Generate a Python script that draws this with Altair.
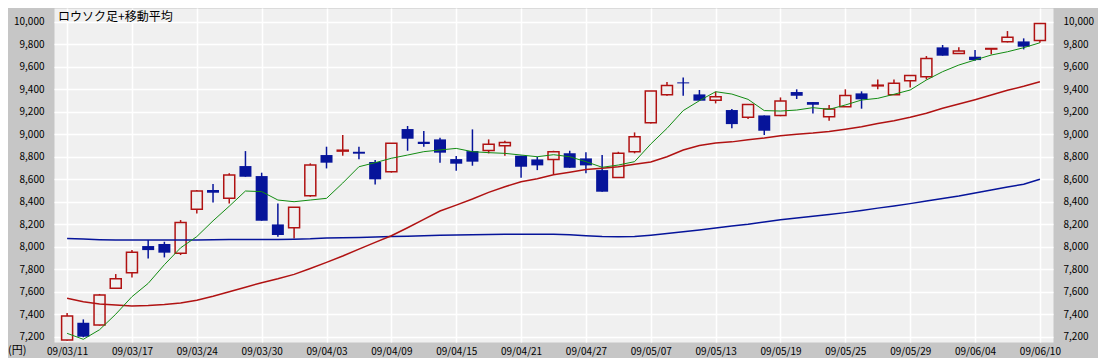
import altair as alt
import pandas as pd

# trading days (YY/MM/DD)
dates = [
    "09/03/11", "09/03/12", "09/03/13", "09/03/16", "09/03/17", "09/03/18", "09/03/19", "09/03/23",
    "09/03/24", "09/03/25", "09/03/26", "09/03/27", "09/03/30", "09/03/31", "09/04/01", "09/04/02",
    "09/04/03", "09/04/06", "09/04/07", "09/04/08", "09/04/09", "09/04/10", "09/04/13", "09/04/14",
    "09/04/15", "09/04/16", "09/04/17", "09/04/20", "09/04/21", "09/04/22", "09/04/23", "09/04/24",
    "09/04/27", "09/04/28", "09/04/30", "09/05/01", "09/05/07", "09/05/08", "09/05/11", "09/05/12",
    "09/05/13", "09/05/14", "09/05/15", "09/05/18", "09/05/19", "09/05/20", "09/05/21", "09/05/22",
    "09/05/25", "09/05/26", "09/05/27", "09/05/28", "09/05/29", "09/06/01", "09/06/02", "09/06/03",
    "09/06/04", "09/06/05", "09/06/08", "09/06/09", "09/06/10",
]

open_ = [7170, 7324, 7304, 7630, 7769, 8006, 8024, 7941, 8332, 8504, 8430, 8717, 8628, 8198, 8169, 8453,
         8815, 8850, 8844, 8753, 8667, 9046, 8933, 8954, 8779, 8850, 8856, 8898, 8809, 8776, 8776, 8830,
         8785, 8681, 8616, 8844, 9102, 9351, 9461, 9354, 9301, 9215, 9150, 9167, 9167, 9375, 9286, 9156,
         9244, 9363, 9430, 9351, 9476, 9511, 9772, 9718, 9689, 9757, 9822, 9825, 9834]
high = [7410, 7354, 7580, 7757, 7970, 8059, 8044, 8237, 8504, 8557, 8652, 8850, 8658, 8385, 8350, 8741,
        8889, 8993, 8889, 8770, 8919, 9073, 9028, 8969, 8806, 9043, 8954, 8942, 8809, 8800, 8853, 8853,
        8839, 8815, 8844, 9016, 9384, 9464, 9505, 9393, 9378, 9224, 9265, 9167, 9327, 9399, 9286, 9259,
        9399, 9381, 9487, 9487, 9523, 9695, 9793, 9772, 9748, 9762, 9917, 9852, 9985]
low = [7165, 7195, 7300, 7630, 7727, 7896, 7905, 7926, 8296, 8394, 8385, 8622, 8231, 8089, 8074, 8444,
       8696, 8809, 8778, 8554, 8659, 8853, 8889, 8747, 8676, 8720, 8830, 8809, 8613, 8681, 8646, 8702,
       8652, 8489, 8616, 8830, 9096, 9342, 9342, 9298, 9274, 9052, 9135, 8993, 9160, 9313, 9185, 9120,
       9244, 9227, 9399, 9351, 9416, 9487, 9698, 9718, 9653, 9710, 9816, 9754, 9813]
close = [7384, 7200, 7570, 7716, 7950, 7970, 7947, 8216, 8495, 8480, 8637, 8622, 8231, 8104, 8350, 8726,
         8747, 8858, 8827, 8599, 8919, 8960, 8913, 8836, 8738, 8756, 8910, 8927, 8711, 8723, 8844, 8702,
         8723, 8489, 8830, 8978, 9384, 9434, 9452, 9298, 9333, 9090, 9265, 9031, 9295, 9342, 9262, 9224,
         9345, 9310, 9436, 9452, 9523, 9674, 9698, 9739, 9659, 9762, 9861, 9778, 9985]

ma_short = [7230, 7177, 7262, 7400, 7556, 7674, 7840, 7990, 8090, 8230, 8360, 8495, 8490, 8415, 8400, 8415,
            8430, 8566, 8711, 8747, 8786, 8815, 8845, 8860, 8874, 8845, 8836, 8830, 8815, 8800, 8818, 8800,
            8756, 8706, 8726, 8756, 8913, 9052, 9210, 9298, 9378, 9357, 9310, 9210, 9206, 9215, 9236, 9221,
            9260, 9304, 9319, 9355, 9393, 9482, 9556, 9615, 9660, 9704, 9733, 9769, 9813]
ma_mid = [7541, 7511, 7490, 7481, 7473, 7478, 7487, 7500, 7525, 7560, 7600, 7640, 7680, 7715, 7754, 7807,
          7861, 7917, 7979, 8039, 8098, 8169, 8243, 8317, 8370, 8424, 8483, 8533, 8578, 8604, 8640, 8662,
          8686, 8697, 8711, 8734, 8753, 8800, 8860, 8900, 8922, 8932, 8950, 8966, 8986, 9000, 9010, 9025,
          9045, 9067, 9095, 9120, 9150, 9186, 9230, 9268, 9307, 9348, 9390, 9426, 9466]
ma_long = [8074, 8068, 8062, 8059, 8059, 8059, 8059, 8059, 8059, 8062, 8065, 8065, 8065, 8065, 8066, 8070,
           8078, 8080, 8082, 8086, 8090, 8094, 8098, 8102, 8104, 8106, 8108, 8110, 8110, 8110, 8110, 8106,
           8097, 8090, 8089, 8090, 8102, 8117, 8132, 8148, 8166, 8184, 8200, 8220, 8240, 8255, 8271, 8286,
           8303, 8322, 8343, 8362, 8383, 8406, 8428, 8450, 8478, 8505, 8530, 8556, 8600]

y_ticks = list(range(7200, 10001, 200))
x_tick_idx = list(range(0, 61, 4))

RED = "#b01212"
BLUE = "#06149a"
GREEN = "#128c12"
PLOT_BG = "#f0f0f0"
FONT = "Noto Sans CJK JP"

n = len(dates)
candles = pd.DataFrame({
    "i": list(range(n)), "date": dates, "open": open_, "high": high, "low": low, "close": close,
})
candles["up"] = candles["close"] > candles["open"]

ma = pd.DataFrame({
    "i": list(range(n)) * 3,
    "value": ma_short + ma_mid + ma_long,
    "series": ["short"] * n + ["mid"] * n + ["long"] * n,
})

W, H = 999, 334
xscale = alt.Scale(domain=[-0.5, n - 0.5], nice=False, zero=False)
yscale = alt.Scale(domain=[7153, 10122], nice=False, zero=False)

# label expression: nested conditionals mapping tick index -> date string
label_expr = "''"
for k in reversed(x_tick_idx):
    label_expr = f"datum.value == {k} ? '{dates[k]}' : ({label_expr})"

x_axis = alt.Axis(values=x_tick_idx, labelExpr=label_expr, grid=True, gridColor="white", gridWidth=1.5,
                  labelPadding=4, labelFlush=False, labelOverlap=False, title=None)
y_left = alt.Axis(values=y_ticks, format=",d", grid=True, gridColor="white", gridWidth=1.5,
                  labelPadding=10, minExtent=46, maxExtent=46, title=None)
y_right = alt.Axis(values=y_ticks, format=",d", grid=False, orient="right",
                   labelPadding=10, minExtent=45, maxExtent=45, title=None)

base = alt.Chart(candles)

wicks = base.mark_rule(strokeWidth=1.5).encode(
    x=alt.X("i:Q", scale=xscale, axis=x_axis),
    y=alt.Y("low:Q", scale=yscale, axis=y_left),
    y2="high:Q",
    color=alt.Color("up:N", scale=alt.Scale(domain=[True, False], range=[RED, BLUE]), legend=None),
)

up_bodies = base.transform_filter("datum.close > datum.open").mark_bar(
    size=11, fill=PLOT_BG, stroke=RED, strokeWidth=1.5
).encode(
    x=alt.X("i:Q", scale=xscale, axis=x_axis),
    y=alt.Y("open:Q", scale=yscale, axis=None),
    y2="close:Q",
)

down_bodies = base.transform_filter("datum.close <= datum.open").mark_bar(
    size=12, color=BLUE
).encode(
    x=alt.X("i:Q", scale=xscale, axis=x_axis),
    y=alt.Y("open:Q", scale=yscale, axis=None),
    y2="close:Q",
)

def ma_line(name, color, width):
    return alt.Chart(ma).transform_filter(alt.datum.series == name).mark_line(
        color=color, strokeWidth=width
    ).encode(
        x=alt.X("i:Q", scale=xscale, axis=x_axis),
        y=alt.Y("value:Q", scale=yscale, axis=None),
    )

right_axis = alt.Chart(ma).transform_filter(alt.datum.series == "long").mark_line(opacity=0).encode(
    x=alt.X("i:Q", scale=xscale, axis=x_axis),
    y=alt.Y("value:Q", scale=yscale, axis=y_right),
)

title_text = alt.Chart(pd.DataFrame({"t": ["ロウソク足+移動平均"]})).mark_text(
    align="left", baseline="middle", font=FONT, fontSize=12, color="black"
).encode(x=alt.value(4), y=alt.value(9), text="t:N")

yen_text = alt.Chart(pd.DataFrame({"t": ["(円)"]})).mark_text(
    align="left", baseline="middle", font=FONT, fontSize=11, color="black"
).encode(x=alt.value(-46), y=alt.value(H + 9), text="t:N")

chart = alt.layer(
    wicks, up_bodies, down_bodies,
    ma_line("long", BLUE, 1.5), ma_line("mid", RED, 1.5), ma_line("short", GREEN, 1),
    right_axis, title_text, yen_text,
).resolve_scale(y="shared").resolve_axis(y="independent").properties(
    width=W, height=H,
    autosize=alt.AutoSizeParams(type="none"),
    padding={"left": 46, "right": 45, "top": 0, "bottom": 16},
    background="#c6c6c6",
).configure_view(
    fill=PLOT_BG, stroke="transparent",
).configure_axis(
    domain=False, ticks=False, labelFont=FONT, labelFontSize=10, labelColor="black",
)

chart.save("out.html", embed_options={"renderer": "svg", "actions": False})
